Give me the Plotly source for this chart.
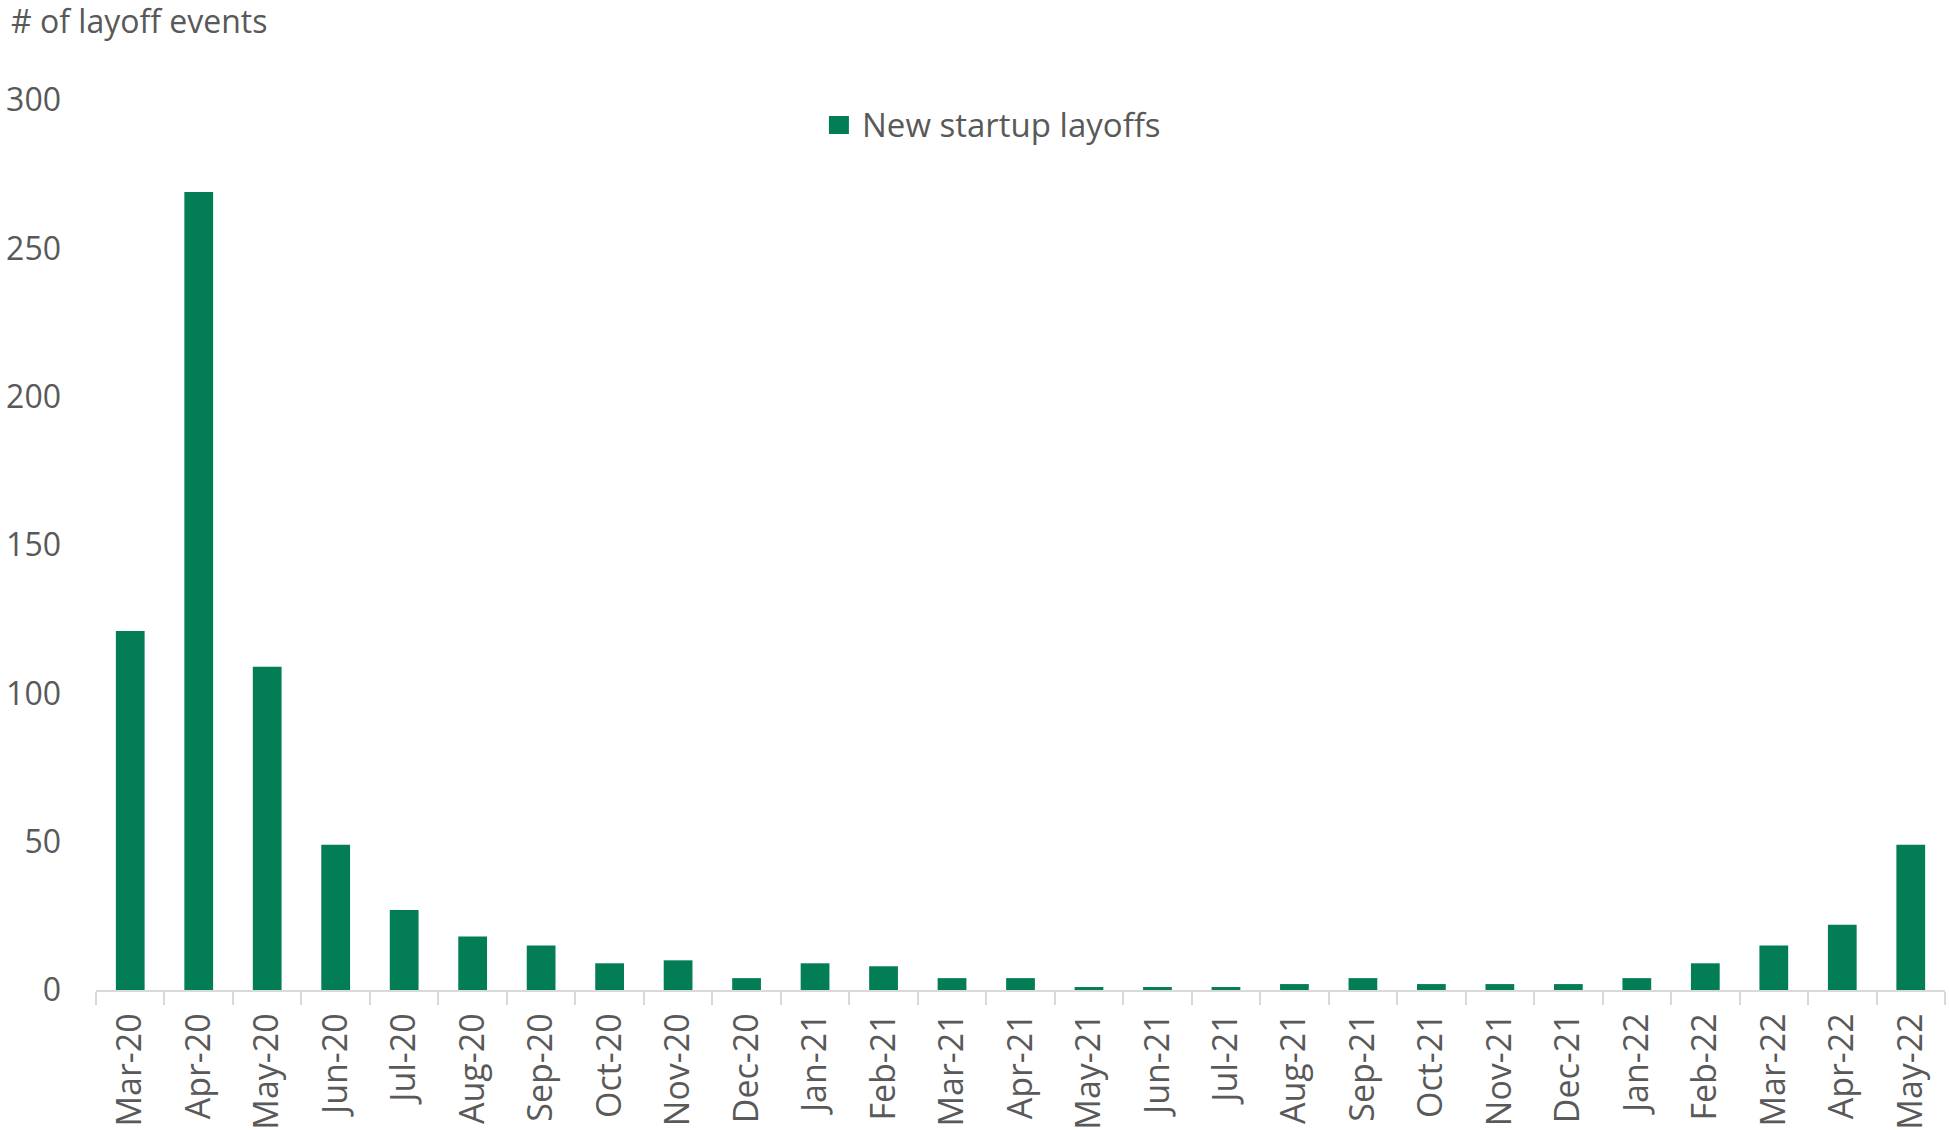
import plotly.graph_objects as go

# Monthly count of new startup layoff events
months = [
    "Mar-20", "Apr-20", "May-20", "Jun-20", "Jul-20", "Aug-20", "Sep-20",
    "Oct-20", "Nov-20", "Dec-20", "Jan-21", "Feb-21", "Mar-21", "Apr-21",
    "May-21", "Jun-21", "Jul-21", "Aug-21", "Sep-21", "Oct-21", "Nov-21",
    "Dec-21", "Jan-22", "Feb-22", "Mar-22", "Apr-22", "May-22",
]
layoffs = [
    121, 269, 109, 49, 27, 18, 15,
    9, 10, 4, 9, 8, 4, 4,
    1, 1, 1, 2, 4, 2, 2,
    2, 4, 9, 15, 22, 49,
]
y_ticks = [0, 50, 100, 150, 200, 250, 300]

series_name = "New startup layoffs"
y_title = "# of layoff events"

GREEN = "#037d55"
TEXT = "#595959"
AXIS = "#d9d9d9"
FONT = "Open Sans"

fig = go.Figure()

fig.add_trace(go.Bar(
    x=months,
    y=layoffs,
    marker=dict(color=GREEN, line=dict(width=0)),
    showlegend=False,
    name=series_name,
))

# legend: square swatch plus label, placed above the bars
legend_shapes = [dict(
    type="rect",
    xref="paper", yref="paper",
    x0=0.3964, x1=0.4072,
    y0=0.9618, y1=0.982,
    fillcolor=GREEN,
    line=dict(width=0),
)]

annotations = [
    dict(
        text=series_name,
        xref="paper", yref="paper",
        x=0.4132, y=0.973,
        xanchor="left", yanchor="middle",
        showarrow=False,
        font=dict(size=33, color=TEXT),
    ),
    dict(
        text=y_title,
        xref="paper", yref="paper",
        x=-0.047, y=1.0895,
        xanchor="left", yanchor="middle",
        showarrow=False,
        font=dict(size=32, color=TEXT),
    ),
]

fig.update_layout(
    width=1949,
    height=1130,
    margin=dict(l=96, r=4, t=100, b=140),
    paper_bgcolor="white",
    plot_bgcolor="white",
    font=dict(family=FONT, color=TEXT, size=30),
    bargap=0.58,
    showlegend=False,
    shapes=legend_shapes,
    annotations=annotations,
)

fig.update_xaxes(
    type="category",
    automargin=False,
    tickangle=-90,
    tickfont=dict(size=34, color=TEXT),
    showline=True,
    linecolor=AXIS,
    linewidth=1.5,
    ticks="outside",
    tickson="boundaries",
    ticklen=13,
    tickcolor=AXIS,
    tickwidth=1.5,
    ticklabelstandoff=8,
    showgrid=False,
    zeroline=False,
)

fig.update_yaxes(
    automargin=False,
    range=[0, 300],
    tickvals=y_ticks,
    tickfont=dict(size=32, color=TEXT),
    showgrid=False,
    zeroline=False,
    showline=False,
    ticks="",
    ticklabelstandoff=34,
)

fig.write_html("out.html")
